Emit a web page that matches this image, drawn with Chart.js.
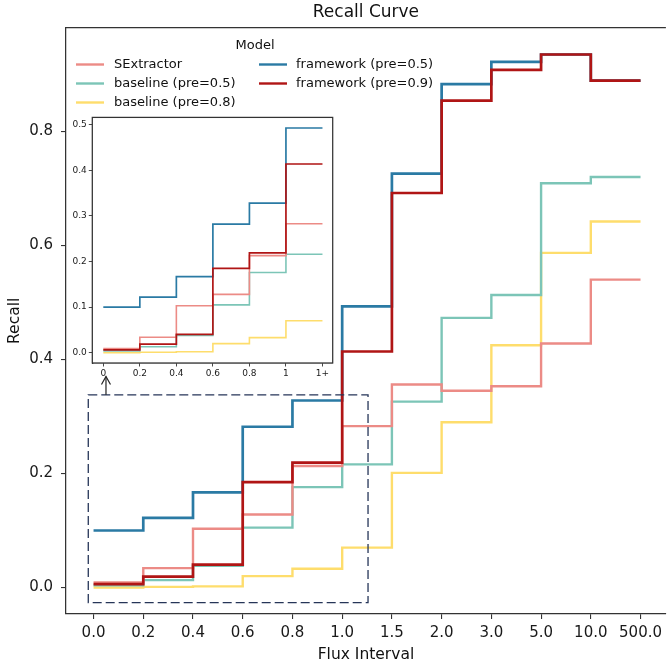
<!DOCTYPE html>
<html><head><meta charset="utf-8">
<script src="https://cdn.jsdelivr.net/npm/chart.js@4.4.0/dist/chart.umd.min.js"></script>
<style>
html,body{margin:0;padding:0;background:#fff;}
#wrap{position:relative;width:667px;height:668px;overflow:hidden;}
#main{position:absolute;left:0;top:0;}
#inset{position:absolute;left:62px;top:110px;}
</style></head><body>
<div id="wrap"><canvas id="main" width="667" height="668"></canvas><canvas id="inset" width="276" height="272"></canvas></div>
<script>
// ---- data ----
const categories = ['0.0','0.2','0.4','0.6','0.8','1.0','1.5','2.0','3.0','5.0','10.0','500.0'];
const insetCategories = ['0','0.2','0.4','0.6','0.8','1','1+'];
const yTicks = [0.0, 0.2, 0.4, 0.6, 0.8];
const insetYTicks = [0.0, 0.1, 0.2, 0.3, 0.4, 0.5];
const seriesNames = ['SExtractor','baseline (pre=0.5)','baseline (pre=0.8)','framework (pre=0.5)','framework (pre=0.9)'];
const sextractor  = [0.009,0.034,0.103,0.128,0.213,0.283,0.356,0.345,0.353,0.428,0.540];
const baseline05  = [0.004,0.013,0.038,0.105,0.176,0.216,0.326,0.473,0.513,0.709,0.720];
const baseline08  = [0.000,0.001,0.002,0.020,0.033,0.070,0.201,0.290,0.425,0.587,0.642];
const framework05 = [0.100,0.122,0.167,0.282,0.328,0.493,0.726,0.883,0.922,0.935,0.889];
const framework09 = [0.006,0.019,0.040,0.185,0.219,0.414,0.692,0.854,0.908,0.935,0.889];
const insetCount = 6; // first six intervals shown in the inset

// ---- styles ----
const seriesValues = [sextractor, baseline05, baseline08, framework05, framework09];
const colors = ['#ec8b86','#7cc5b7','#fedd6c','#2a7aa4','#b01515'];
const mainWidths = [2.4,2.4,2.4,2.7,2.7];
const insetWidths = [1.6,1.6,1.6,1.7,1.7];
const drawOrder = [2,3,4,1,0];
const FONT = "'DejaVu Sans', sans-serif";
const SPINE = '#333333';
Chart.defaults.font.family = FONT;
Chart.defaults.color = '#1a1a1a';

function stepPoints(vals){
  const pts = vals.map((v,i)=>({x:i,y:v}));
  pts.push({x:vals.length,y:vals[vals.length-1]});
  return pts;
}
function makeDatasets(count, widths){
  return seriesValues.map((vals,i)=>({
    label: seriesNames[i],
    data: stepPoints(count ? vals.slice(0,count) : vals),
    borderColor: colors[i], backgroundColor: colors[i],
    borderWidth: widths[i], stepped: 'before', pointRadius: 0,
    fill: false, order: drawOrder[i], borderJoinStyle: 'miter', borderCapStyle: 'butt'
  }));
}

// ---- main chart ----
const mainPlugin = {
  id: 'mainDeco',
  beforeDraw(chart){
    const c = chart.ctx; c.save(); c.fillStyle = '#fff'; c.fillRect(0,0,chart.width,chart.height); c.restore();
  },
  afterDraw(chart){
    const c = chart.ctx, a = chart.chartArea, xs = chart.scales.x, ys = chart.scales.y;
    c.save();
    // top spine
    c.strokeStyle = SPINE; c.lineWidth = 1.25;
    c.beginPath(); c.moveTo(a.left, a.top); c.lineTo(a.right, a.top); c.stroke();
    // dashed zoom box (data coords)
    const bx0 = xs.getPixelForValue(-0.106), bx1 = xs.getPixelForValue(5.52);
    const by0 = ys.getPixelForValue(0.338), by1 = ys.getPixelForValue(-0.0267);
    c.strokeStyle = '#263558'; c.lineWidth = 1.3; c.setLineDash([9,4]);
    c.strokeRect(bx0, by0, bx1-bx0, by1-by0);
    c.setLineDash([]);
    // arrow
    const ax = xs.getPixelForValue(0.25), ay0 = by0, ay1 = ys.getPixelForValue(0.370);
    c.strokeStyle = '#222'; c.lineWidth = 1.2;
    c.beginPath(); c.moveTo(ax, ay0); c.lineTo(ax, ay1); c.stroke();
    c.beginPath(); c.moveTo(ax-4.5, ay1+8); c.lineTo(ax, ay1); c.lineTo(ax+4.5, ay1+8); c.stroke();
    // titles
    c.fillStyle = '#111'; c.textAlign = 'center'; c.textBaseline = 'middle';
    c.font = "17px " + FONT; c.fillText('Recall Curve', (a.left+a.right)/2, 13);
    c.font = "15.5px " + FONT; c.fillText('Flux Interval', (a.left+a.right)/2, 655);
    c.save(); c.translate(15, (a.top+a.bottom)/2); c.rotate(-Math.PI/2); c.fillText('Recall', 0, 0); c.restore();
    // legend
    c.font = "13px " + FONT; c.fillText('Model', 255, 45.5);
    c.textAlign = 'left';
    const colX = [76, 259], textX = [114, 296], rowY = [64.5, 83.5, 102.5];
    seriesNames.forEach((name,i)=>{
      const col = i < 3 ? 0 : 1, row = i < 3 ? i : i-3;
      c.strokeStyle = colors[i]; c.lineWidth = 2.4;
      c.beginPath(); c.moveTo(colX[col], rowY[row]); c.lineTo(colX[col]+28, rowY[row]); c.stroke();
      c.fillStyle = '#111'; c.fillText(name, textX[col], rowY[row]);
    });
    c.restore();
  }
};

new Chart(document.getElementById('main'), {
  type: 'line',
  data: { datasets: makeDatasets(0, mainWidths) },
  options: {
    responsive: false, animation: false, events: [],
    layout: { autoPadding: false, padding: { top: 27.7, right: 0, left: 0, bottom: 0 } },
    plugins: { legend: { display: false }, tooltip: { enabled: false }, title: { display: false } },
    scales: {
      x: {
        type: 'linear', min: -0.554, max: 11.51,
        afterBuildTicks: s => { s.ticks = categories.map((_,i)=>({value:i})); },
        afterFit: s => { s.height = 54; },
        ticks: { callback: v => categories[v], font: { size: 15 }, padding: 5, maxRotation: 0, autoSkip: false, color: '#1a1a1a' },
        grid: { display: true, drawOnChartArea: false, drawTicks: true, tickLength: 5, color: SPINE, lineWidth: 1.1 },
        border: { display: true, color: SPINE, width: 1.25 }
      },
      y: {
        type: 'linear', min: -0.0465, max: 0.982,
        afterBuildTicks: s => { s.ticks = yTicks.map(v=>({value:v})); },
        afterFit: s => { s.width = 66; },
        ticks: { callback: v => v.toFixed(1), font: { size: 15 }, padding: 8, color: '#1a1a1a' },
        grid: { display: true, drawOnChartArea: false, drawTicks: true, tickLength: 5, color: SPINE, lineWidth: 1.1 },
        border: { display: true, color: SPINE, width: 1.25 }
      }
    }
  },
  plugins: [mainPlugin]
});

// ---- inset chart ----
const insetPlugin = {
  id: 'insetDeco',
  beforeDatasetsDraw(chart){
    const c = chart.ctx, a = chart.chartArea;
    c.save(); c.fillStyle = '#fff'; c.fillRect(a.left, a.top, a.right-a.left, a.bottom-a.top); c.restore();
  },
  afterDraw(chart){
    const c = chart.ctx, a = chart.chartArea;
    c.save(); c.strokeStyle = SPINE; c.lineWidth = 1.25;
    c.strokeRect(a.left, a.top, a.right-a.left, a.bottom-a.top); c.restore();
  }
};

new Chart(document.getElementById('inset'), {
  type: 'line',
  data: { datasets: makeDatasets(insetCount, insetWidths) },
  options: {
    responsive: false, animation: false, events: [],
    layout: { autoPadding: false, padding: { top: 7.3, right: 5.3, left: 0, bottom: 0 } },
    plugins: { legend: { display: false }, tooltip: { enabled: false } },
    scales: {
      x: {
        type: 'linear', min: -0.301, max: 6.28,
        afterBuildTicks: s => { s.ticks = insetCategories.map((_,i)=>({value:i})); },
        afterFit: s => { s.height = 19; },
        ticks: { callback: v => insetCategories[v], font: { size: 9 }, padding: 2, maxRotation: 0, autoSkip: false, color: '#1a1a1a' },
        grid: { display: true, drawOnChartArea: false, drawTicks: true, tickLength: 3.5, color: SPINE, lineWidth: 0.9 },
        border: { display: true, color: SPINE, width: 1.25 }
      },
      y: {
        type: 'linear', min: -0.0226, max: 0.5163,
        afterBuildTicks: s => { s.ticks = insetYTicks.map(v=>({value:v})); },
        afterFit: s => { s.width = 30.3; },
        ticks: { callback: v => v.toFixed(1), font: { size: 9 }, padding: 2, color: '#1a1a1a' },
        grid: { display: true, drawOnChartArea: false, drawTicks: true, tickLength: 3.5, color: SPINE, lineWidth: 0.9 },
        border: { display: true, color: SPINE, width: 1.25 }
      }
    }
  },
  plugins: [insetPlugin]
});
</script>
</body></html>
